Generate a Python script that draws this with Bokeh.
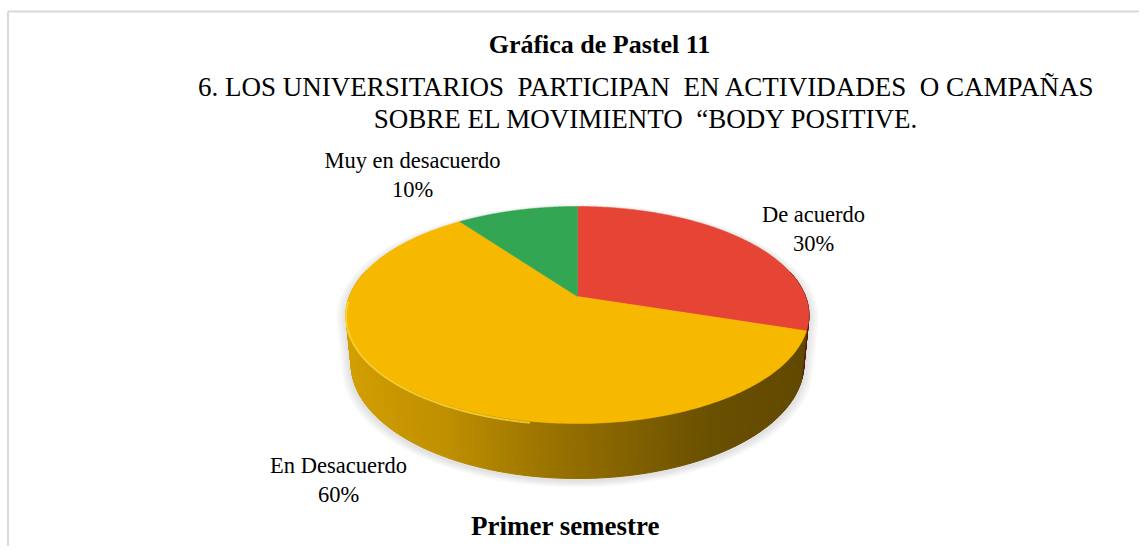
import numpy as np
from bokeh.plotting import figure
from bokeh.models import Range1d
from bokeh.embed import file_html
from bokeh.resources import INLINE
from bokeh.core.properties import value

# ---------------- data ----------------
categories = ["De acuerdo", "En Desacuerdo", "Muy en desacuerdo"]
percentages = [30, 60, 10]
slice_colors = ["#E64435", "#F6B900", "#32A653"]
chart_title = "Gráfica de Pastel 11"
subtitle_lines = ["6. LOS UNIVERSITARIOS \u00a0PARTICIPAN \u00a0EN ACTIVIDADES \u00a0O CAMPAÑAS",
                  "SOBRE EL MOVIMIENTO \u00a0“BODY POSITIVE."]
bottom_title = "Primer semestre"

# ---------------- layout ----------------
W, H = 1139, 546
FONT = "Liberation Serif"
p = figure(width=W, height=H, x_range=Range1d(0, W), y_range=Range1d(H, 0),
           output_backend="svg", toolbar_location=None, min_border=0)
p.axis.visible = False
p.grid.visible = False
p.outline_line_color = None
p.background_fill_color = "white"
p.border_fill_color = "white"

# chart-area border (top and left visible)
p.segment(x0=[7.5, 7.5], y0=[11, 11], x1=[W, 7.5], y1=[11, H], line_color="#D9D9D9", line_width=2)

# perspective projection of a tilted disc
CX, CY = 577.0, 296.0
F, D, S, C, HGT = 1186.0, 5.20, 0.462, 0.887, 0.245


def proj(theta, level):
    X = np.sin(theta)
    Z = np.cos(theta)
    h = level * HGT
    yp = Z * S - h * C
    zp = Z * C + h * S
    return CX + F * X / (D + zp), CY - F * yp / (D + zp)


def hex_rgb(h):
    h = h.lstrip("#")
    return tuple(int(h[i:i + 2], 16) for i in (0, 2, 4))


def shade(col, f):
    r, g, b = hex_rgb(col)
    return "#%02x%02x%02x" % (int(min(255, r * f)), int(min(255, g * f)), int(min(255, b * f)))


total = float(sum(percentages))
fracs = [v / total for v in percentages]
starts = np.cumsum([0] + fracs[:-1]) * 2 * np.pi
ends = np.cumsum(fracs) * 2 * np.pi

# shadow around silhouette
tl, tr = np.deg2rad(258.5), np.deg2rad(101.5)
far = np.linspace(tr, tl - 2 * np.pi, 120)
near = np.linspace(tr, tl, 120)
sx_top, sy_top = proj(far, 0)
sx_bot, sy_bot = proj(near[::-1], 1)
sil_x = np.concatenate([sx_top, sx_bot])
sil_y = np.concatenate([sy_top, sy_bot])
for k in range(6, 0, -1):
    fct = 1 + 0.007 * k
    p.patch(CX + (sil_x - CX) * fct, CY + 20 + (sil_y - CY - 20) * fct + 2,
            fill_color="#808080", fill_alpha=0.045, line_color=None)

# side walls
wall_xs, wall_ys, wall_cols, wall_depth = [], [], [], []
shade_x = [-1.0, -0.5, 0.0, 0.5, 1.0]
shade_f = [0.87, 0.78, 0.59, 0.43, 0.39]
for s0, s1, col in zip(starts, ends, slice_colors):
    n = max(2, int(np.degrees(s1 - s0)))
    th = np.linspace(s0, s1, n + 1)
    for a, b in zip(th[:-1], th[1:]):
        mid = 0.5 * (a + b)
        if np.cos(mid) > 0.25:
            continue
        x0, y0 = proj(np.array([a, b]), 0)
        x1, y1 = proj(np.array([b, a]), 1)
        wall_xs.append(list(np.concatenate([x0, x1])))
        wall_ys.append(list(np.concatenate([y0, y1])))
        wall_cols.append(shade(col, float(np.interp(np.sin(mid), shade_x, shade_f))))
        wall_depth.append(np.cos(mid))
order = np.argsort(wall_depth)[::-1]
p.patches([wall_xs[i] for i in order], [wall_ys[i] for i in order],
          fill_color=[wall_cols[i] for i in order], line_color=[wall_cols[i] for i in order],
          line_width=1)

# top face slices
for s0, s1, col in zip(starts, ends, slice_colors):
    th = np.linspace(s0, s1, 200)
    x, y = proj(th, 0)
    p.patch(np.concatenate([[CX], x]), np.concatenate([[CY], y]),
            fill_color=col, line_color=col, line_width=0.5)

# rim highlight
th = np.linspace(np.deg2rad(190), np.deg2rad(268), 100)
hx, hy = proj(th, 0)
p.line(hx, hy + 1.5, line_color="#FFD83A", line_width=2, line_alpha=0.8)

# texts
p.text(x=[599], y=[44], text=[chart_title], text_font=value(FONT), text_font_style="bold",
       text_font_size="26px", text_align="center", text_baseline="middle", text_color="#000000")
p.text(x=[646, 646], y=[86, 118], text=subtitle_lines, text_font=value(FONT),
       text_font_size="27px", text_align="center", text_baseline="middle", text_color="#000000")

lab_x = [813, 338, 412]
lab_y = [214, 465, 160]
lab_text = [c for c in categories]
pct_text = ["%d%%" % v for v in percentages]
p.text(x=lab_x, y=lab_y, text=lab_text, text_font=value(FONT), text_font_size="22.5px",
       text_align="center", text_baseline="middle", text_color="#000000")
p.text(x=lab_x, y=[y + 29 for y in lab_y], text=pct_text, text_font=value(FONT), text_font_size="22.5px",
       text_align="center", text_baseline="middle", text_color="#000000")

p.text(x=[565], y=[525], text=[bottom_title], text_font=value(FONT), text_font_style="bold",
       text_font_size="27px", text_align="center", text_baseline="middle", text_color="#000000")

open("out.html", "w").write(file_html(p, INLINE))
